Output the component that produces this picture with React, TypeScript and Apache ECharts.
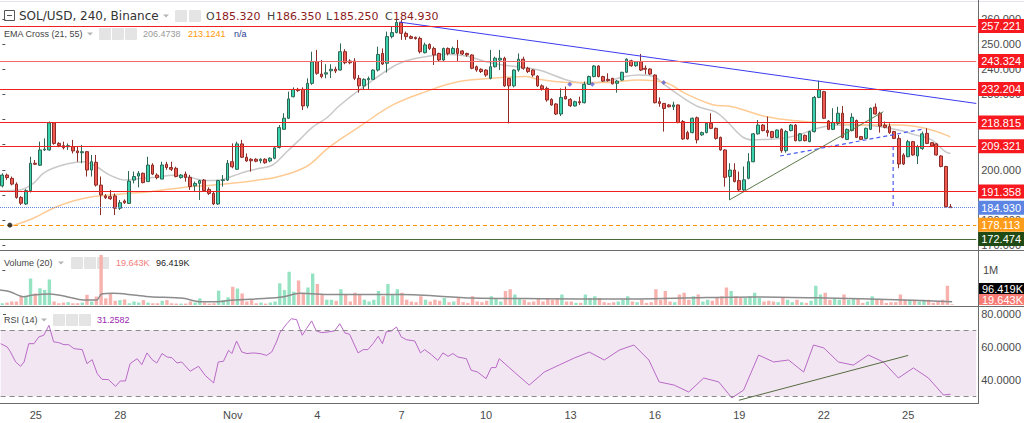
import React, { useEffect, useRef } from "react";
import * as echarts from "echarts";

// ---------------- data ----------------
const opens = [193.6,197.9,196.6,194.3,189.0,186.4,191.7,202.6,201.8,207.9,207.9,218.7,210.5,209.6,209.2,209.2,207.5,206.8,207.2,199.9,203.0,193.9,189.6,189.3,189.6,184.7,187.6,186.6,195.9,197.5,198.6,195.3,201.9,197.9,196.3,202.2,200.9,200.6,196.9,198.3,197.0,193.6,194.6,195.9,192.2,190.6,186.4,195.7,195.9,203.2,200.2,210.3,205.0,204.2,204.2,203.6,204.2,203.5,204.6,208.9,216.1,220.5,229.1,232.0,232.0,225.4,234.4,243.0,238.1,238.1,239.4,240.0,239.7,247.0,243.3,243.3,236.4,233.4,235.8,236.0,239.7,246.3,242.4,253.0,254.6,258.6,254.3,253.0,252.7,252.3,246.6,249.9,248.3,246.3,243.7,248.3,246.3,248.3,247.3,246.3,245.7,241.0,240.0,239.7,236.4,241.0,243.7,244.4,236.4,233.4,239.7,244.0,240.4,239.7,237.3,233.4,232.4,228.0,226.2,222.2,229.2,228.0,225.4,227.1,226.7,234.0,237.1,241.3,237.1,236.0,236.4,234.4,235.7,238.8,243.4,241.4,243.0,240.4,240.1,237.7,227.1,226.4,225.8,225.1,225.8,219.2,214.8,214.8,220.7,213.9,214.8,218.5,216.5,212.9,207.9,197.3,199.9,195.7,192.0,196.6,203.2,214.3,217.8,215.6,215.2,212.9,216.1,207.6,215.6,217.8,211.6,213.7,211.2,215.2,228.8,231.1,219.4,216.1,218.5,222.5,212.1,215.6,219.6,213.2,212.5,216.1,224.9,222.5,217.8,217.2,215.2,212.5,205.9,205.2,211.2,205.5,208.5,214.5,210.8,210.3,205.5,201.3,185.32];
const closes = [197.9,196.9,194.3,189.0,186.7,191.7,202.6,202.2,207.9,208.2,218.7,210.5,209.6,208.8,209.6,207.5,206.8,207.2,199.9,203.2,193.9,190.0,188.9,188.5,184.7,186.9,186.9,195.5,197.3,198.6,194.9,201.9,198.3,196.9,201.9,200.9,200.2,197.3,197.9,196.9,193.3,194.6,195.7,191.7,190.6,186.4,195.7,196.0,202.6,201.2,210.3,205.0,203.5,203.6,203.4,204.2,202.8,204.6,208.7,216.8,220.5,228.2,232.0,231.5,225.4,234.4,243.0,238.4,237.1,238.6,240.0,239.3,247.0,242.6,242.6,236.4,233.4,236.0,236.3,239.7,245.9,242.1,253.0,254.6,258.6,254.3,253.0,252.3,252.2,247.0,249.7,248.3,245.7,243.7,248.3,246.3,248.3,246.3,246.1,245.7,240.4,239.7,239.1,237.7,241.0,244.4,244.4,233.4,233.4,239.7,244.0,240.4,239.1,237.7,233.4,232.2,227.8,225.8,222.2,228.8,228.2,225.5,227.1,226.7,234.0,237.1,241.3,237.1,235.3,235.5,234.2,235.3,238.8,244.0,241.4,243.0,239.7,240.0,238.1,226.7,226.4,224.4,225.1,225.8,218.8,212.3,212.3,220.5,211.9,214.8,218.5,216.5,212.5,207.9,197.0,199.9,195.3,192.0,196.0,203.2,214.3,217.8,215.6,214.8,212.9,215.8,207.6,215.2,217.8,211.6,214.3,211.6,215.2,228.8,231.8,220.5,216.1,218.8,222.5,212.9,216.1,220.9,212.9,212.1,216.5,224.5,222.2,217.4,216.9,214.8,212.5,202.3,202.3,211.2,205.9,209.2,214.3,210.5,209.5,205.9,201.3,185.3,184.93];
const lows = [193.0,196.0,193.8,188.5,186.0,186.0,191.0,201.9,201.5,207.5,207.6,210.0,209.0,208.1,207.9,206.5,203.2,202.6,197.3,197.3,193.3,182.0,188.4,188.0,182.0,184.0,186.4,186.4,194.6,193.0,194.6,195.3,197.9,196.2,196.3,200.0,199.5,197.0,196.5,195.3,192.0,191.3,188.0,191.3,190.0,186.0,186.0,193.3,195.5,200.6,200.0,204.7,203.2,199.3,203.0,202.6,202.4,203.0,204.2,208.5,216.0,220.2,228.8,231.0,223.8,224.5,233.8,237.8,236.4,236.4,236.5,238.5,239.5,242.0,242.0,235.7,230.7,232.0,231.8,236.0,239.1,241.7,238.7,252.3,254.3,251.7,251.7,252.0,251.8,246.3,246.3,247.7,241.7,243.0,243.0,245.5,246.0,243.0,245.7,245.0,240.0,239.0,238.5,237.0,236.0,240.7,239.7,233.0,218.5,232.8,239.0,239.8,238.5,237.0,233.0,231.5,227.1,225.5,221.8,221.4,228.0,225.0,225.2,225.8,226.4,233.8,236.8,236.8,235.0,235.1,234.0,230.7,235.5,238.5,241.0,241.0,239.3,238.0,237.7,226.4,225.1,215.2,224.8,223.8,218.5,211.9,212.0,214.5,210.5,213.5,214.5,216.2,212.0,207.6,193.3,188.0,195.0,191.3,191.3,196.2,203.0,214.0,215.3,213.2,212.5,212.6,206.8,206.8,215.3,211.3,211.3,211.3,211.0,214.8,228.5,220.2,215.8,215.8,217.8,212.5,211.8,215.3,212.6,211.8,212.2,215.8,222.0,214.8,216.5,214.3,212.2,200.6,201.9,205.0,205.6,202.3,207.9,210.2,209.2,205.6,201.0,185.0,184.93];
const highs = [198.6,198.5,197.3,195.0,189.5,192.3,205.2,203.9,211.2,212.5,219.2,219.0,211.0,211.2,210.5,211.9,209.2,209.9,207.5,205.9,205.9,197.3,190.3,192.0,190.6,188.0,188.2,199.5,199.3,199.5,198.9,205.2,202.6,198.6,203.2,203.2,203.2,201.2,198.3,199.3,198.0,195.3,196.0,196.3,193.0,191.3,196.0,197.9,203.9,210.5,211.2,211.9,206.5,204.6,204.6,204.6,204.6,205.0,209.0,217.8,222.5,231.1,232.8,232.6,232.8,236.4,247.0,247.7,243.7,242.0,242.0,241.0,250.3,248.0,244.0,244.4,237.7,236.4,237.1,240.0,249.0,248.3,255.0,257.0,259.9,259.6,255.0,253.5,253.0,253.0,250.6,250.3,249.0,246.6,248.6,248.7,249.0,251.7,247.6,246.6,246.0,241.5,240.4,240.0,247.7,245.0,247.7,245.0,236.6,240.0,246.3,245.0,241.0,240.0,237.6,234.0,233.1,228.5,226.5,232.4,233.1,228.5,227.5,229.1,235.1,237.5,241.7,241.6,237.4,238.4,236.6,235.7,239.0,244.4,243.8,243.3,246.1,241.5,240.4,238.0,228.8,226.6,226.2,227.1,226.0,219.8,215.5,220.8,221.2,215.2,219.0,222.5,216.8,213.2,208.2,202.6,202.6,199.3,201.3,206.6,214.6,219.8,218.2,221.2,215.5,216.1,216.5,215.8,218.2,218.2,214.6,214.0,215.5,229.4,235.5,231.4,219.8,224.5,225.1,225.4,216.4,222.5,220.0,213.5,216.8,224.8,226.4,223.1,219.2,218.5,215.5,213.9,206.6,211.9,211.5,209.9,215.2,216.5,211.0,210.6,205.8,201.6,186.35];
const volumesK = [50,70,100,100,240,260,760,330,480,430,730,100,50,70,80,50,50,70,290,100,240,1430,190,330,120,140,160,50,100,70,140,70,50,50,120,140,50,40,40,40,100,70,190,70,40,50,410,140,220,520,470,330,100,140,50,70,40,70,100,620,430,950,380,700,350,500,900,600,300,150,150,120,450,300,100,350,300,150,100,150,400,250,600,300,450,350,150,100,80,250,150,100,150,120,200,80,100,200,80,60,250,100,80,120,250,200,100,400,450,300,200,150,80,100,200,100,200,150,200,300,100,100,60,60,300,200,250,200,80,60,80,100,150,250,100,80,150,60,80,450,150,400,100,80,300,350,150,250,300,100,150,120,200,250,500,400,250,200,200,250,350,200,100,120,100,80,200,150,80,150,80,60,120,550,300,350,150,200,150,300,150,200,200,60,100,250,150,150,60,80,80,300,150,150,150,100,150,150,60,100,150,550,19.6];

const emaFastIdx = [-0.5,3.75,6.6,8.7,10.8,13.7,17.2,20.1,22.9,26.4,29.3,32.8,36.4,39.9,43.5,46.3,49.1,52,54.8,57.6,60.5,63.3,66.1,69,71.8,76.1,83.2,86.7,90.2,94.5,98.8,103,106.5,110.1,114.3,121.4,124.9,128.5,132.7,135.6,138.4,141.2,144.1,148.3,151.9,154.1,157.6,159.7,162.6,166.1,169.7,172.5,175.3,178.2,182.4,186.7,190.9,194.5,198,200.9,202];
const emaFastVal = [191.7,192.0,194.6,198.6,200.6,202.3,203.2,201.2,197.9,195.9,196.5,197.0,197.8,197.0,195.7,195.9,197.5,199.3,200.6,201.9,207.0,211.9,217.0,220.5,225.5,231.8,241.0,243.7,245.0,246.0,245.3,243.0,241.7,241.0,239.7,235.1,234.4,235.1,237.1,237.7,237.3,233.7,229.8,225.1,223.1,219.8,213.2,211.9,212.1,212.5,213.9,215.8,217.2,217.8,217.8,217.2,215.8,213.9,211.9,207.2,206.47];
const emaSlowIdx = [1.6,6.6,11.55,17.2,24.3,31.4,38.5,45.6,54.8,58.3,64.7,69,71.8,76.1,83.2,90.2,97.3,104.4,111.5,114.3,121.4,128.5,135.6,141.2,145.5,151.2,155.5,162.6,169.7,176.8,183.8,190.9,196.6,202];
const emaSlowVal = [177.4,180.7,185.3,188.6,190.2,191.3,193.0,194.0,196.0,197.0,201.2,208.0,211.9,217.2,225.8,231.1,235.1,236.4,237.1,236.0,234.7,234.7,235.7,234.7,230.4,226.0,225.1,221.2,219.4,218.5,217.8,217.8,216.5,213.12];

const volMaIdx = [-0.5,1.6,4.5,6.6,10.1,13.7,17.2,20.1,21.1,23.6,27.9,31.4,38.5,42,45.6,49.1,56.2,59.8,63.3,70,85,100,115,130,145,160,175,190,202];
const volMaVal = [429,381,238,286,314,238,143,143,314,333,286,238,190,95,95,143,190,238,333,300,300,200,180,170,200,230,200,150,96.4];

const rsiIdx = [-0.5,0.9,1.6,2.7,3.75,4.5,5.5,6.6,7.65,8.7,9.8,10.8,11.9,13,14,15.1,16.9,17.9,19,20.1,21.1,22.5,24,25,26.1,27.1,28.6,29.6,30.7,31.8,32.8,33.9,35,36,37.1,38.1,39.9,41.7,43.1,44.9,45.9,47,48.1,48.8,49.8,50.9,52,53.4,54.8,56.2,57.3,58.3,59,60.5,61.5,62.6,63.8,64.7,65.8,66.8,67.9,69.3,70.7,71.8,72.9,73.9,75.7,76.8,77.8,78.9,80,80.9,81.7,82.8,83.9,84.9,86,87.8,89,89.9,91.3,92.7,93.8,94.9,95.9,97,98.8,99.8,101.2,103,104.1,105.1,105.8,109,112.2,115.4,118.6,121.8,125,128.2,131.4,134.5,137.7,139.9,143.1,146.2,149.4,152.6,155.4,157.9,161.1,164.3,167.5,170.7,172.8,175,178.1,181.3,184.5,187.7,190.9,194.1,197.3,200.5,202];
const rsiVal = [61.9,59.9,56.9,50.8,48.2,50.8,61.9,61.9,66.0,67.0,73.0,63.0,62.5,61.3,61.3,58.9,58.3,49.8,52.2,43.7,40.3,40.1,36.0,39.3,39.3,49.8,52.8,49.2,56.3,52.2,50.2,55.9,53.8,53.4,50.2,50.8,45.2,48.2,42.7,38.1,50.8,51.2,57.9,55.9,63.5,56.9,55.9,56.3,55.9,54.8,56.9,62.9,68.4,74.0,77.0,76.5,67.0,71.0,75.7,69.6,68.6,69.0,69.6,74.0,68.4,67.6,56.3,58.3,58.3,61.9,66.4,61.9,69.0,69.6,72.0,66.0,64.3,63.5,56.3,58.3,55.3,51.8,56.3,54.2,55.9,53.8,52.8,45.8,44.7,40.7,47.4,47.4,52.8,44.7,36.8,44.7,49,53.2,56.8,52,58,61.1,52,38.7,36.8,32.6,41.1,38.7,29,33.8,55,50.8,52,44.7,61.1,59.3,50.8,48.9,55,50.8,41.1,47.2,41.1,30.8,31.26];

const tickIdx = [7, 25, 49, 67, 85, 103, 121, 139, 157, 175, 193];
const tickLbl = ["25", "28", "Nov", "4", "7", "10", "13", "16", "19", "22", "25"];
const priceTicks = [170, 180, 190, 200, 210, 220, 230, 240, 250, 260];
const priceLabels = [170, 180, 200, 230, 240, 250, 260];
const rsiTicks = [40, 60, 80];

const redLevels = [257.221, 243.324, 232.204, 218.815, 209.321, 191.358];
const lastPrice = 184.93;
const orangeLevel = 178.113;
const greenLevel = 172.474;
const emaFastLast = 206.474;
const emaSlowLast = 213.124;
const rsiLast = 31.2582;

const blueTrend = [[84.6, 258.8], [207.5, 226.4]];
const greenTrend = [[154.9, 188.0], [187.7, 223.1]];
const blueDash = [[165.7, 205.5], [195.9, 216.1]];
const blueDashV = [[189.8, 209.5], [189.8, 185.3]];
const rsiTrend = [[156.9, 27.6], [193.0, 54.8]];
const crossMarks = [[120.9, 234.0], [125.7, 234.0], [140.9, 234.7]];
const blackDot = [[1.6, 178.0]];

const N_SLOTS = 208;
const AXF = "Liberation Sans, Arial, sans-serif";
const TF = "DejaVu Sans, Verdana, sans-serif";

const pairs = (a: number[], b: number[]) => a.map((x, i) => [x, b[i]]);

function buildOption() {
  const cats = Array.from({ length: N_SLOTS }, (_, i) => {
    const k = tickIdx.indexOf(i);
    return k >= 0 ? tickLbl[k] : "";
  });
  const candles = opens.map((o, i) => [o, closes[i], lows[i], highs[i]]);
  const vols = volumesK.map((v, i) => ({
    value: v,
    itemStyle: { color: closes[i] >= opens[i] ? "#96e3c4" : "#f7b2ad" },
  }));

  const lvlLabel = (bg: string, txt: string, color = "#fff") => ({
    show: true,
    position: "end",
    formatter: txt,
    color,
    backgroundColor: bg,
    padding: [2, 4, 1, 3],
    fontSize: 11,
    fontFamily: AXF,
    distance: 2,
  });

  const markLines: any[] = redLevels.map((v, i) => ({
    yAxis: v,
    lineStyle: { color: i === 1 ? "#f36a6a" : "#f0201f", width: 1, type: "solid" },
    label: lvlLabel("#f7191f", v.toFixed(3)),
  }));
  markLines.push({ yAxis: emaSlowLast, lineStyle: { opacity: 0 }, label: lvlLabel("#ff9e1f", emaSlowLast.toFixed(3)) });
  markLines.push({ yAxis: emaFastLast, lineStyle: { opacity: 0 }, label: lvlLabel("#a3a3a3", emaFastLast.toFixed(3)) });
  markLines.push({ yAxis: lastPrice, lineStyle: { color: "#5f86e0", width: 1, type: "dotted" }, label: lvlLabel("#5b84e3", lastPrice.toFixed(3)) });
  markLines.push({ yAxis: orangeLevel, lineStyle: { color: "#ff9800", width: 1, type: [4, 3] }, label: lvlLabel("#ff9c1a", orangeLevel.toFixed(3)) });
  markLines.push({ yAxis: greenLevel, lineStyle: { color: "#4a6b37", width: 1, type: "solid" }, label: lvlLabel("#1f4a14", greenLevel.toFixed(3)) });

  const hiddenCat = (grid: number) => ({
    type: "category", gridIndex: grid, data: cats, boundaryGap: true,
    axisLine: { show: false }, axisTick: { show: false }, axisLabel: { show: false }, splitLine: { show: false },
  });
  const hiddenVal = (grid: number) => ({
    type: "value", gridIndex: grid, min: -0.5, max: N_SLOTS - 0.5, show: false, splitLine: { show: false },
  });

  const icon = (x: number, y: number) => ({ type: "rect", shape: { x, y, width: 12, height: 12, r: 1 }, style: { fill: "#e4e4e4" } });
  const caret = (x: number, y: number) => ({ type: "polygon", shape: { points: [[x, y - 1.5], [x + 6, y - 1.5], [x + 3, y + 1.5]] }, style: { fill: "#b5b5b5" } });
  const txt = (x: number, y: number, text: string, fill: string, size: number, font = AXF) => ({
    type: "text", x, y, style: { text, fill, fontSize: size, fontFamily: font, verticalAlign: "middle" },
  });

  const graphic: any[] = [
    { type: "line", shape: { x1: 0, y1: 1.5, x2: 1024, y2: 1.5 }, style: { stroke: "#e0e3eb", lineWidth: 1 } },
    { type: "line", shape: { x1: 0, y1: 250.5, x2: 1024, y2: 250.5 }, style: { stroke: "#6b6b6b", lineWidth: 1 } },
    { type: "line", shape: { x1: 0, y1: 306.5, x2: 1024, y2: 306.5 }, style: { stroke: "#6b6b6b", lineWidth: 1 } },
    { type: "line", shape: { x1: 0, y1: 403.5, x2: 978, y2: 403.5 }, style: { stroke: "#6b6b6b", lineWidth: 1 } },
    { type: "line", shape: { x1: 978.5, y1: 0, x2: 978.5, y2: 404 }, style: { stroke: "#6b6b6b", lineWidth: 1 } },
    // header row 1
    { type: "rect", shape: { x: 4.5, y: 10.5, width: 10, height: 10 }, style: { fill: "none", stroke: "#555", lineWidth: 1 } },
    { type: "line", shape: { x1: 7, y1: 15.5, x2: 12, y2: 15.5 }, style: { stroke: "#555", lineWidth: 1 } },
    txt(19, 16, "SOL/USD, 240, Binance", "#333", 12, TF),
    caret(163, 16),
    icon(175, 10), icon(189, 10),
    txt(206, 16, "O", "#444", 11, TF), txt(215, 16, "185.320", "#8b1c1c", 11, TF),
    txt(267, 16, "H", "#444", 11, TF), txt(276, 16, "186.350", "#8b1c1c", 11, TF),
    txt(326, 16, "L", "#444", 11, TF), txt(333, 16, "185.250", "#8b1c1c", 11, TF),
    txt(385, 16, "C", "#444", 11, TF), txt(393, 16, "184.930", "#8b1c1c", 11, TF),
    // header row 2
    txt(4, 34, "EMA Cross (21, 55)", "#444", 9),
    caret(87, 34),
    icon(99, 28), icon(112, 28), icon(125, 28),
    txt(143, 34, "206.4738", "#9a9a9a", 9),
    txt(188, 34, "213.1241", "#ff9800", 9),
    txt(234, 34, "n/a", "#2a3a8f", 9),
    // volume header
    txt(4, 263, "Volume (20)", "#444", 9),
    caret(58, 263),
    icon(71, 257), icon(84, 257), icon(97, 257),
    txt(116, 263, "19.643K", "#f47c7c", 9),
    txt(156, 263, "96.419K", "#222", 9),
    // rsi header
    txt(4, 320, "RSI (14)", "#444", 9),
    caret(41, 320),
    icon(53, 314), icon(66, 314), icon(79, 314),
    txt(97, 320, "31.2582", "#9c27b0", 9),
    // volume axis value boxes
    { type: "rect", shape: { x: 979, y: 283, width: 45, height: 11 }, style: { fill: "#000" } },
    txt(982, 288.5, "96.419K", "#fff", 11, AXF),
    { type: "rect", shape: { x: 979, y: 294, width: 45, height: 11 }, style: { fill: "#f77b72" } },
    txt(982, 299.5, "19.643K", "#fff", 11, AXF),
  ];

  return {
    animation: false,
    backgroundColor: "#ffffff",
    grid: [
      { left: 0, right: 46, top: 0, height: 250 },
      { left: 0, right: 46, top: 251, height: 54 },
      { left: 0, right: 46, top: 308, height: 95 },
    ],
    xAxis: [
      hiddenCat(0), hiddenVal(0),
      hiddenCat(1), hiddenVal(1),
      {
        type: "category", gridIndex: 2, data: cats, boundaryGap: true,
        axisLine: { show: false }, axisTick: { show: false }, splitLine: { show: false },
        axisLabel: { interval: 0, color: "#4a4a4a", fontSize: 11, fontFamily: AXF, margin: 6 },
      },
      hiddenVal(2),
    ],
    yAxis: [
      {
        type: "value", gridIndex: 0, position: "right", min: 168.08, max: 267.57, scale: true,
        splitLine: { show: false }, axisLine: { show: false },
        axisTick: { show: true, length: 3, customValues: priceTicks, lineStyle: { color: "#555" } },
        axisLabel: { customValues: priceLabels, formatter: (v: number) => v.toFixed(3), color: "#4a4a4a", fontSize: 11, fontFamily: AXF, margin: 5 },
      },
      {
        type: "value", gridIndex: 1, position: "right", min: 0, max: 1543,
        splitLine: { show: false }, axisLine: { show: false },
        axisTick: { show: true, length: 3, customValues: [1000], lineStyle: { color: "#555" } },
        axisLabel: { customValues: [1000], formatter: () => "1M", color: "#4a4a4a", fontSize: 11, fontFamily: AXF, margin: 5 },
      },
      {
        type: "value", gridIndex: 2, position: "right", min: 25.94, max: 83.52,
        splitLine: { show: false }, axisLine: { show: false },
        axisTick: { show: true, length: 3, customValues: rsiTicks, lineStyle: { color: "#555" } },
        axisLabel: { customValues: rsiTicks, formatter: (v: number) => v.toFixed(4), color: "#4a4a4a", fontSize: 11, fontFamily: AXF, margin: 5 },
      },
    ],
    series: [
      {
        type: "line", name: "EMA21", xAxisIndex: 1, yAxisIndex: 0, data: pairs(emaFastIdx, emaFastVal),
        smooth: 0.4, showSymbol: false, lineStyle: { color: "#c9c9c9", width: 1.5 }, z: 1,
      },
      {
        type: "line", name: "EMA55", xAxisIndex: 1, yAxisIndex: 0, data: pairs(emaSlowIdx, emaSlowVal),
        smooth: 0.4, showSymbol: false, lineStyle: { color: "#ffcb95", width: 1.5 }, z: 1,
      },
      {
        type: "candlestick", xAxisIndex: 0, yAxisIndex: 0, data: candles, barWidth: 3.2, clip: false, z: 3,
        itemStyle: { color: "#3bd2af", color0: "#ec5a52", borderColor: "#2d6652", borderColor0: "#8d2c27", borderWidth: 1 },
        markLine: { silent: true, symbol: ["none", "none"], animation: false, data: markLines },
      },
      { type: "line", xAxisIndex: 1, yAxisIndex: 0, data: blueTrend, showSymbol: false, lineStyle: { color: "#3b3bf0", width: 1 }, z: 4 },
      { type: "line", xAxisIndex: 1, yAxisIndex: 0, data: greenTrend, showSymbol: false, lineStyle: { color: "#5a7a48", width: 1 }, z: 4 },
      { type: "line", xAxisIndex: 1, yAxisIndex: 0, data: blueDash, showSymbol: false, lineStyle: { color: "#4a5ef0", width: 1.2, type: [4, 3] }, z: 4 },
      { type: "line", xAxisIndex: 1, yAxisIndex: 0, data: blueDashV, showSymbol: false, lineStyle: { color: "#4a5ef0", width: 1.2, type: [4, 3] }, z: 4 },
      { type: "scatter", xAxisIndex: 1, yAxisIndex: 0, data: crossMarks, symbol: "diamond", symbolSize: 5, itemStyle: { color: "#6060d0" }, z: 5 },
      { type: "scatter", xAxisIndex: 1, yAxisIndex: 0, data: blackDot, symbol: "circle", symbolSize: 5, itemStyle: { color: "#111" }, z: 5 },
      { type: "bar", xAxisIndex: 2, yAxisIndex: 1, data: vols, barWidth: 3.4 },
      {
        type: "line", xAxisIndex: 3, yAxisIndex: 1, data: pairs(volMaIdx, volMaVal), smooth: 0.3, showSymbol: false,
        lineStyle: { color: "#8c8c8c", width: 1.5 }, z: 4,
      },
      {
        type: "line", xAxisIndex: 5, yAxisIndex: 2, data: pairs(rsiIdx, rsiVal), showSymbol: false,
        lineStyle: { color: "#b86ac6", width: 1 }, z: 4,
        markArea: { silent: true, itemStyle: { color: "#f3e6f3" }, data: [[{ yAxis: 30 }, { yAxis: 70 }]] },
        markLine: {
          silent: true, symbol: ["none", "none"], animation: false,
          data: [
            { yAxis: 70, lineStyle: { color: "#8a8a8a", type: [5, 4], width: 1 }, label: { show: false } },
            { yAxis: 30, lineStyle: { color: "#8a8a8a", type: [5, 4], width: 1 }, label: { show: false } },
            { yAxis: rsiLast, lineStyle: { opacity: 0 }, label: lvlLabel("#8e1d8e", rsiLast.toFixed(4)) },
          ],
        },
      },
      { type: "line", xAxisIndex: 5, yAxisIndex: 2, data: rsiTrend, showSymbol: false, lineStyle: { color: "#566b40", width: 1 }, z: 5 },
    ],
    graphic,
  };
}

export default function App() {
  const ref = useRef<HTMLDivElement>(null);
  useEffect(() => {
    const chart = echarts.init(ref.current!, null, { renderer: "svg" });
    chart.setOption(buildOption() as any);
    return () => chart.dispose();
  }, []);
  return <div ref={ref} style={{ width: 1024, height: 423, position: "absolute", left: 0, top: 0 }} />;
}
